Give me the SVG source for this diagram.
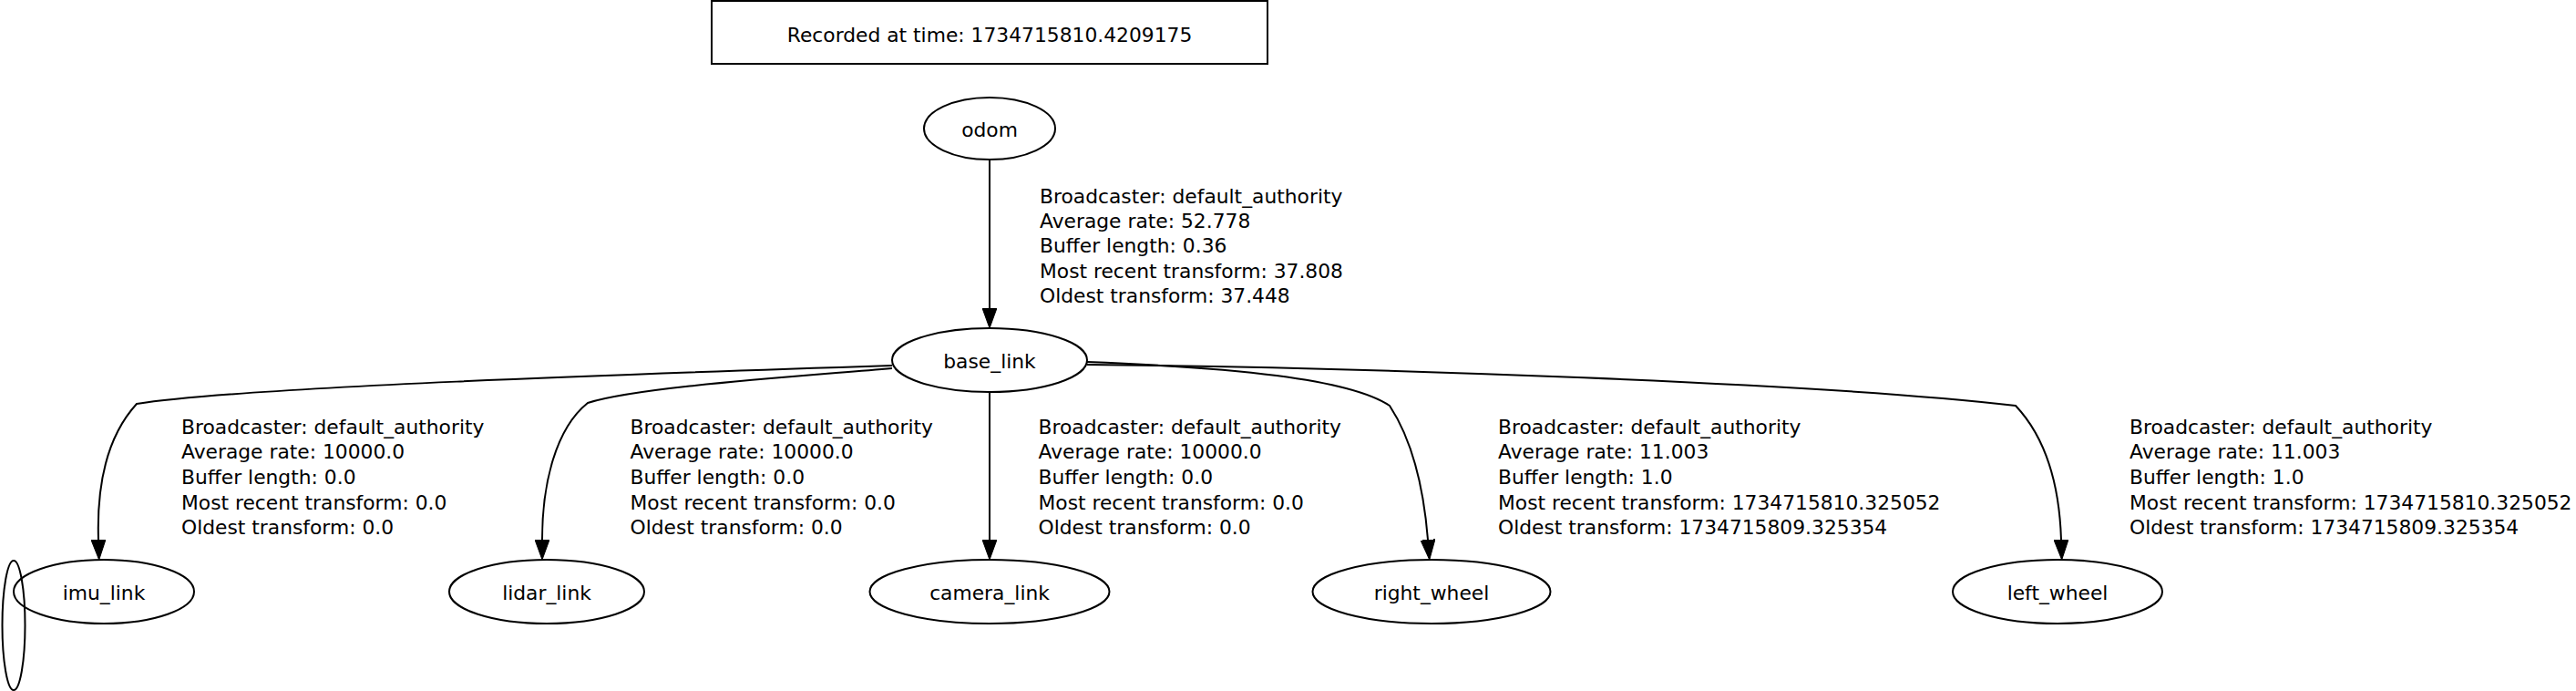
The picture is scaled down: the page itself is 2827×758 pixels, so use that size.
<svg xmlns="http://www.w3.org/2000/svg" width="2827" height="758" viewBox="0 0 2827 758">
<style>
text{font-family:"DejaVu Sans","Liberation Sans",sans-serif;font-size:21.8px;fill:#000}
.node{fill:none;stroke:#000;stroke-width:2}
.nl{text-anchor:middle}
.edge{fill:none;stroke:#000;stroke-width:2}
</style>
<defs>
<marker id="ah" viewBox="0 0 22 16" refX="0" refY="8" markerWidth="22" markerHeight="16" markerUnits="userSpaceOnUse" orient="auto">
<path d="M0,0 L22,8 L0,16 z" fill="#000" stroke="#000" stroke-width="1"/>
</marker>
</defs>
<rect width="2827" height="758" fill="#fff"/>
<g id="legend">
<rect x="781" y="1" width="610" height="69" class="node"/>
<text x="1086" y="45.5" class="nl">Recorded at time: 1734715810.4209175</text>
</g>
<g id="connectors">
<g id="e-odom-base_link"><path class="edge" marker-end="url(#ah)" d="M1086,175 L1086,338"/>
<text x="1141" y="222.5">Broadcaster: default_authority</text><text x="1141" y="249.9">Average rate: 52.778</text><text x="1141" y="277.3">Buffer length: 0.36</text><text x="1141" y="304.7">Most recent transform: 37.808</text><text x="1141" y="332.1">Oldest transform: 37.448</text></g>
<g id="e-base_link-imu_link"><path class="edge" marker-end="url(#ah)" d="M979,401 C700,410 260,425 150,443 C118,478 106,530 108,592"/>
<text x="199" y="475.8">Broadcaster: default_authority</text><text x="199" y="503.4">Average rate: 10000.0</text><text x="199" y="531">Buffer length: 0.0</text><text x="199" y="558.6">Most recent transform: 0.0</text><text x="199" y="586.2">Oldest transform: 0.0</text></g>
<g id="e-base_link-lidar_link"><path class="edge" marker-end="url(#ah)" d="M979,404 C850,415 700,425 645,442 C610,470 595,530 595,592"/>
<text x="691.5" y="475.8">Broadcaster: default_authority</text><text x="691.5" y="503.4">Average rate: 10000.0</text><text x="691.5" y="531">Buffer length: 0.0</text><text x="691.5" y="558.6">Most recent transform: 0.0</text><text x="691.5" y="586.2">Oldest transform: 0.0</text></g>
<g id="e-base_link-camera_link"><path class="edge" marker-end="url(#ah)" d="M1086,430 L1086,592"/>
<text x="1139.5" y="475.8">Broadcaster: default_authority</text><text x="1139.5" y="503.4">Average rate: 10000.0</text><text x="1139.5" y="531">Buffer length: 0.0</text><text x="1139.5" y="558.6">Most recent transform: 0.0</text><text x="1139.5" y="586.2">Oldest transform: 0.0</text></g>
<g id="e-base_link-right_wheel"><path class="edge" marker-end="url(#ah)" d="M1193,397 C1350,403 1480,415 1525,445 C1548,480 1562,530 1567,592"/>
<text x="1644" y="475.8">Broadcaster: default_authority</text><text x="1644" y="503.4">Average rate: 11.003</text><text x="1644" y="531">Buffer length: 1.0</text><text x="1644" y="558.6">Most recent transform: 1734715810.325052</text><text x="1644" y="586.2">Oldest transform: 1734715809.325354</text></g>
<g id="e-base_link-left_wheel"><path class="edge" marker-end="url(#ah)" d="M1193,400 C1500,403 2000,420 2212,445 C2245,480 2260,530 2262,592"/>
<text x="2337" y="475.8">Broadcaster: default_authority</text><text x="2337" y="503.4">Average rate: 11.003</text><text x="2337" y="531">Buffer length: 1.0</text><text x="2337" y="558.6">Most recent transform: 1734715810.325052</text><text x="2337" y="586.2">Oldest transform: 1734715809.325354</text></g>
</g>
<g id="odom"><ellipse cx="1086" cy="141" rx="72" ry="34" class="node"/><text x="1086" y="150" class="nl">odom</text></g>
<g id="base_link"><ellipse cx="1086" cy="395" rx="107" ry="35" class="node"/><text x="1086" y="404" class="nl">base_link</text></g>
<g id="imu_link"><ellipse cx="114" cy="649" rx="99" ry="35" class="node"/><text x="114" y="658" class="nl">imu_link</text></g>
<g id="lidar_link"><ellipse cx="600" cy="649" rx="107" ry="35" class="node"/><text x="600" y="658" class="nl">lidar_link</text></g>
<g id="camera_link"><ellipse cx="1086" cy="649" rx="131.5" ry="35" class="node"/><text x="1086" y="658" class="nl">camera_link</text></g>
<g id="right_wheel"><ellipse cx="1571" cy="649" rx="130.5" ry="35" class="node"/><text x="1571" y="658" class="nl">right_wheel</text></g>
<g id="left_wheel"><ellipse cx="2258" cy="649" rx="115" ry="35" class="node"/><text x="2258" y="658" class="nl">left_wheel</text></g>
<g id="unnamed"><ellipse cx="15" cy="686" rx="12.5" ry="71" class="node"/></g>
</svg>
